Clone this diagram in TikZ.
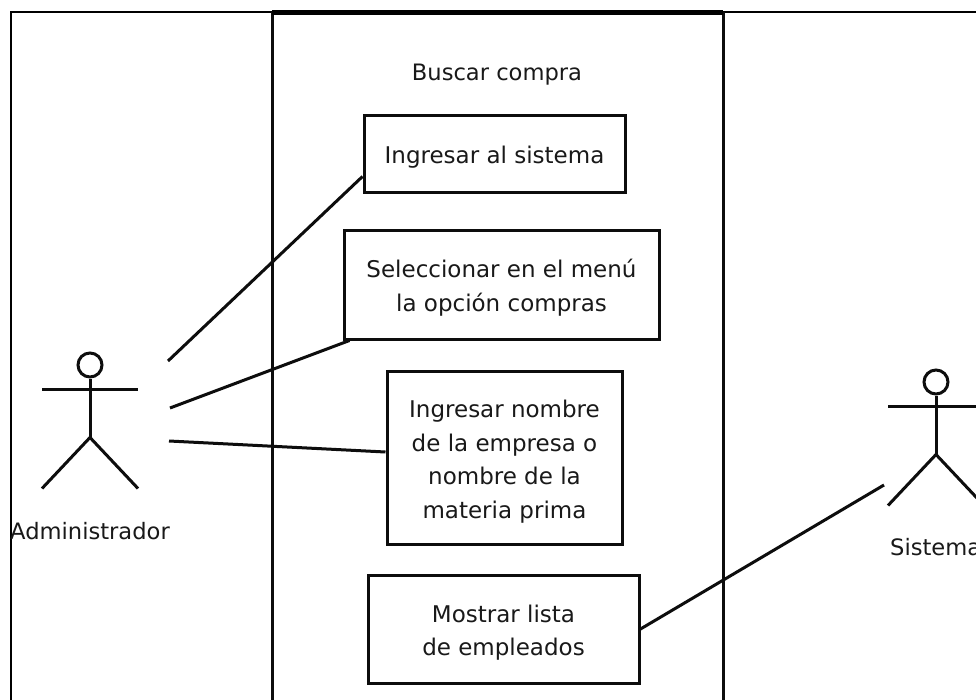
\documentclass[tikz,border=0pt]{standalone}
\usepackage{fontspec}
\setmainfont{DejaVu Sans}
\usetikzlibrary{calc}
\tikzset{
  ln/.style={line width=3pt,black!95},
  box/.style={draw=black!95,line width=3pt,fill=white,inner sep=0pt,align=center,font=\fontsize{23}{33.5}\selectfont,text=black!90},
  lbl/.style={inner sep=0pt,font=\fontsize{22.6}{27}\selectfont,text=black!90},
}
\newcommand{\actor}[2]{%
  \node[draw=black!95,line width=3pt,circle,minimum size=24pt,inner sep=0pt] (#2h) at (#1) {};
  \coordinate (#2a) at ($(#2h.south)+(0,11)$);
  \coordinate (#2c) at ($(#2h.south)+(0,59)$);
  \draw[ln] (#2h.south) -- (#2c);
  \draw[ln] ($(#2a)+(-48,0)$) -- ($(#2a)+(48,0)$);
  \draw[ln] ($(#2c)+(-48,51)$) -- (#2c) -- ($(#2c)+(48,51)$);
}
\begin{document}
\begin{tikzpicture}[x=1pt,y=-1pt]
\useasboundingbox (0,0) rectangle (976,700);
\clip (0,0) rectangle (976,700);
\fill[white] (0,0) rectangle (976,700);
\draw[black,line width=2pt] (11,700) -- (11,12) -- (976,12);
\draw[ln] (272,700) -- (272,14) -- (723,14) -- (723,700);
\fill[black] (272,10.5) rectangle (723,15.5);
\node[lbl] (title) at (497,74.5) {Buscar compra};
\node[box,minimum width=261pt,minimum height=77pt] (b1) at (494.5,154.5) {\rule{0pt}{23.5pt}Ingresar al sistema};
\node[box,minimum width=315pt,minimum height=108pt] (b2) at (501.5,285) {\rule{0pt}{23.5pt}Seleccionar en el menú\\ la opción compras};
\node[box,minimum width=235pt,minimum height=173pt] (b3) at (504.5,457.5) {\rule{0pt}{25.5pt}Ingresar nombre\\de la empresa o\\nombre de la\\materia prima};
\node[box,minimum width=271pt,minimum height=108pt] (b4) at (503.5,629) {\rule{0pt}{24.5pt}Mostrar lista\\de empleados};
\actor{90,365}{A}
\actor{936,382}{S}
\node[lbl] (la) at (90,531) {Administrador};
\node[lbl,anchor=west] (ls) at (890,547) {Sistema};
\coordinate (p1) at (168,361);
\coordinate (p2) at (170,408);
\coordinate (p3) at (169,441);
\coordinate (p4) at (884,485);
\draw[ln] (p1) -- ([yshift=18pt]b1.south west);
\draw[ln] (p2) -- ([xshift=7pt]b2.south west);
\draw[ln] (p3) -- ([yshift=5.5pt]b3.west);
\draw[ln] (b4.east) -- (p4);
\end{tikzpicture}
\end{document}
